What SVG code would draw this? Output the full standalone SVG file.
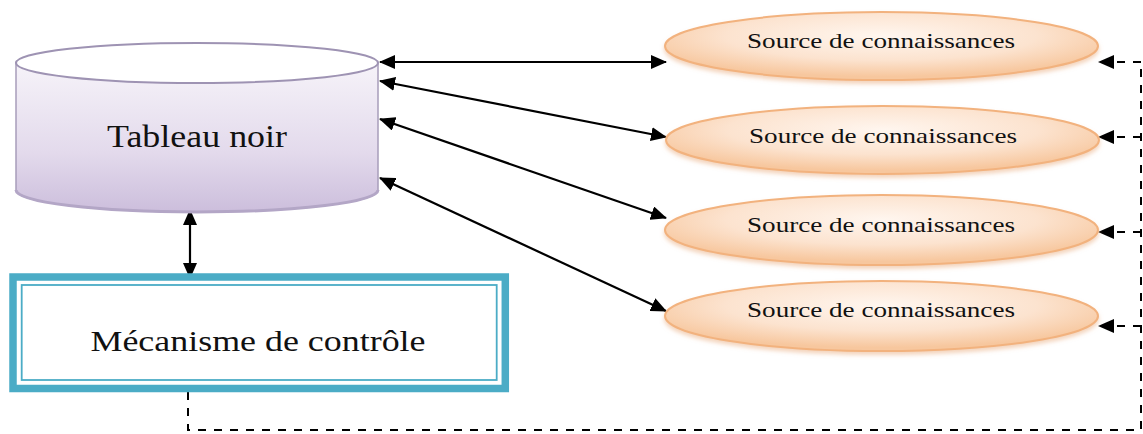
<svg xmlns="http://www.w3.org/2000/svg" width="1143" height="434" viewBox="0 0 1143 434">
  <style>
    .lbl { font-family: "Liberation Serif", "Times New Roman", Times, serif; fill: #111111; text-anchor: middle; }
    .src { font-size: 22px; }
    .conn { stroke: #000; stroke-width: 2.2; fill: none; }
    .dash { stroke: #000; stroke-width: 2; fill: none; stroke-dasharray: 8 8; }
    .ks { fill: url(#ksGrad); stroke: #F2B27E; stroke-width: 2; filter: url(#shadow); }
  </style>
  <defs>
    <marker id="arr" markerUnits="userSpaceOnUse" markerWidth="16" markerHeight="14" refX="15" refY="7" orient="auto-start-reverse" viewBox="0 0 16 14">
      <path d="M0,0 L16,7 L0,14 z" fill="#000"/>
    </marker>
    <linearGradient id="cylGrad" x1="0" y1="0" x2="0" y2="1">
      <stop offset="0" stop-color="#F6F3F9"/>
      <stop offset="0.6" stop-color="#E3DAEC"/>
      <stop offset="1" stop-color="#CCBEDC"/>
    </linearGradient>
    <radialGradient id="ksGrad" cx="0.5" cy="0.35" r="0.6">
      <stop offset="0" stop-color="#FFF6EF"/>
      <stop offset="0.6" stop-color="#FCE3CF"/>
      <stop offset="1" stop-color="#F7C79E"/>
    </radialGradient>
    <filter id="shadow" x="-10%" y="-30%" width="120%" height="170%">
      <feDropShadow dx="0" dy="3" stdDeviation="2" flood-color="#E8A878" flood-opacity="0.5"/>
    </filter>
  </defs>

  <g id="connectors">
    <line class="conn" x1="380" y1="62" x2="666" y2="62" marker-start="url(#arr)" marker-end="url(#arr)"/>
    <line class="conn" x1="380" y1="81" x2="666" y2="137" marker-start="url(#arr)" marker-end="url(#arr)"/>
    <line class="conn" x1="380" y1="119" x2="666" y2="218" marker-start="url(#arr)" marker-end="url(#arr)"/>
    <line class="conn" x1="380" y1="178" x2="666" y2="311" marker-start="url(#arr)" marker-end="url(#arr)"/>
    <line class="conn" x1="190" y1="210" x2="190" y2="278" marker-start="url(#arr)" marker-end="url(#arr)"/>
    <path class="dash" d="M188,392 L188,430 L1141,430 L1141,62"/>
    <line class="dash" x1="1141" y1="62" x2="1099" y2="62" marker-end="url(#arr)"/>
    <line class="dash" x1="1141" y1="137" x2="1099" y2="137" marker-end="url(#arr)"/>
    <line class="dash" x1="1141" y1="232" x2="1099" y2="232" marker-end="url(#arr)"/>
    <line class="dash" x1="1141" y1="326" x2="1099" y2="326" marker-end="url(#arr)"/>
  </g>

  <g id="tableau-noir">
    <path d="M16,63 L16,190 A181,22 0 0 0 378,190 L378,63 Z" fill="url(#cylGrad)" stroke="#A89DBB" stroke-width="1.5"/>
    <path d="M16,190 A181,22 0 0 0 378,190" fill="none" stroke="#B3A6C6" stroke-width="3"/>
    <ellipse cx="197" cy="63" rx="181" ry="20" fill="#FFFFFF" stroke="#9E93B3" stroke-width="2"/>
    <text class="lbl" x="197" y="147" font-size="31" textLength="180" lengthAdjust="spacingAndGlyphs">Tableau noir</text>
  </g>

  <g id="mecanisme-controle">
    <rect x="13" y="277" width="492.3" height="111.5" fill="#FFFFFF" stroke="#4BACC6" stroke-width="7.5"/>
    <rect x="21.7" y="285" width="475" height="95" fill="none" stroke="#4BACC6" stroke-width="1.8"/>
    <text class="lbl" x="258" y="351" font-size="29" textLength="335" lengthAdjust="spacingAndGlyphs">Mécanisme de contrôle</text>
  </g>

  <g id="source-1">
    <ellipse class="ks" cx="881.5" cy="46" rx="216.5" ry="34"/>
    <text class="lbl src" x="881" y="48" textLength="268" lengthAdjust="spacingAndGlyphs">Source de connaissances</text>
  </g>
  <g id="source-2">
    <ellipse class="ks" cx="882.5" cy="140" rx="216.5" ry="34"/>
    <text class="lbl src" x="883" y="143" textLength="268" lengthAdjust="spacingAndGlyphs">Source de connaissances</text>
  </g>
  <g id="source-3">
    <ellipse class="ks" cx="881.5" cy="230" rx="216.5" ry="35"/>
    <text class="lbl src" x="881" y="232" textLength="268" lengthAdjust="spacingAndGlyphs">Source de connaissances</text>
  </g>
  <g id="source-4">
    <ellipse class="ks" cx="881.5" cy="316" rx="216.5" ry="35"/>
    <text class="lbl src" x="881" y="317" textLength="268" lengthAdjust="spacingAndGlyphs">Source de connaissances</text>
  </g>
</svg>
